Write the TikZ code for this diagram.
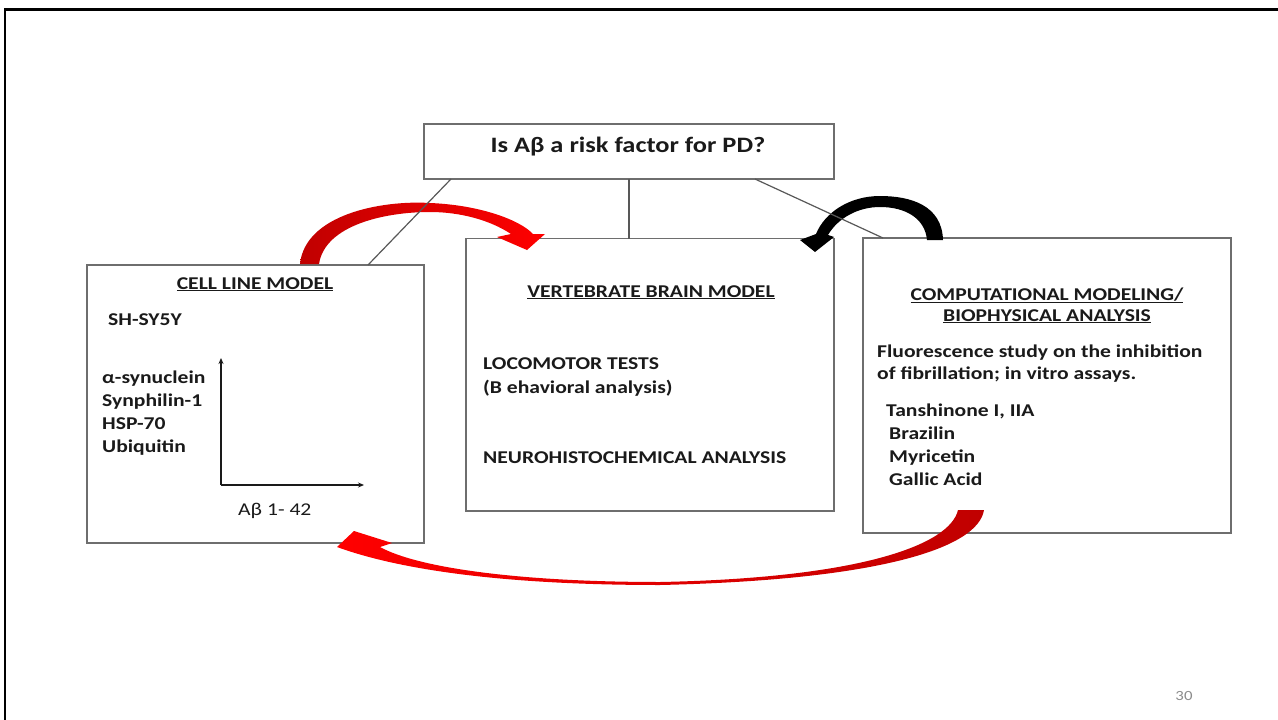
\documentclass[tikz,border=0pt]{standalone}
\usepackage{fontspec}
\setmainfont{Carlito}[FakeStretch=1.2]
\usetikzlibrary{arrows.meta,calc}
\definecolor{boxgray}{HTML}{6E6E6E}
\definecolor{numgray}{HTML}{8C8C8C}
\definecolor{darkred}{HTML}{C00000}
\definecolor{ink}{HTML}{1A1A1A}
\begin{document}
\begin{tikzpicture}[x=1pt,y=-1pt,
  box/.style={draw=boxgray,line width=1.5pt,fill=white,inner sep=0pt,outer sep=0pt,rectangle},
  link/.style={draw=boxgray!80!black,line width=1.2pt},
  txt/.style={font=\bfseries\fontsize{18}{22}\selectfont,anchor=base west,inner sep=0pt,text=ink},
  head/.style={txt,anchor=base},
  axis/.style={draw=ink,line width=1.2pt,-{Stealth[length=6pt,width=5pt]}},
]
\useasboundingbox (0,0) rectangle (1278,720);
\fill[white] (0,0) rectangle (1278,720);
\draw[line width=2.5pt] (5,720) -- (5,9.5) -- (1278,9.5);

% boxes
\node[box,minimum width=410pt,minimum height=55pt] (q) at (629,151.5) {};
\node[box,minimum width=337pt,minimum height=278pt] (cell) at (255.5,404) {};
\node[box,minimum width=368pt,minimum height=272.5pt] (brain) at (650,374.75) {};
\node[box,minimum width=368pt,minimum height=295pt] (comp) at (1047,385.5) {};

% curved arrows
\shade[left color=darkred, right color=red]
  (300,264) .. controls (305,215) and (380,200) .. (430,203)
  .. controls (480,205) and (520,220) .. (533,234)
  -- (545,234) -- (527,250) -- (497,237) -- (511,234)
  .. controls (490,220) and (460,212) .. (430,212)
  .. controls (385,212) and (325,225) .. (319,264) -- cycle;
\fill[black]
  (943,240) .. controls (942,205) and (910,196) .. (880,196)
  .. controls (850,196) and (825,212) .. (816,234)
  -- (800,240) -- (815,252) -- (834,237) -- (828,235)
  .. controls (838,218) and (858,207) .. (880,207)
  .. controls (905,207) and (925,218) .. (927,240) -- cycle;
\shade[left color=red, middle color=red!70!white, right color=darkred]
  (958,510) -- (984,510)
  .. controls (978,548) and (880,580) .. (660,585)
  .. controls (505,585) and (400,570) .. (337,547)
  -- (354,531) -- (392,543) -- (380,547)
  .. controls (418,568) and (520,582) .. (660,582)
  .. controls (860,578) and (950,545) .. (958,510) -- cycle;

% links from question box
\draw[link] ([xshift=27pt]q.south west) -- ([xshift=281pt]cell.north west);
\draw[link] (q.south) -- (q.south |- brain.north);
\draw[link] ([xshift=-79pt]q.south east) -- ([xshift=20pt]comp.north west);

% question
\node[head,font=\bfseries\fontsize{22}{26}\selectfont] (qt) at (628,152) {Is Aβ a risk factor for PD?};

% cell line model
\node[head] (cellh) at (255,289) {\underline{CELL LINE MODEL}};
\node[txt] (sh) at (108,325) {SH-SY5Y};
\node[txt] (m1) at (102,383) {α-synuclein};
\node[txt] (m2) at (102,406) {Synphilin-1};
\node[txt] (m3) at (102,429) {HSP-70};
\node[txt] (m4) at (102,452) {Ubiquitin};
\coordinate (o) at (221,485);
\coordinate (ytop) at (221,358);
\coordinate (xend) at (364,485);
\draw[axis] (o) -- (ytop);
\draw[axis] (o) -- (xend);
\node[txt,font=\fontsize{18}{22}\selectfont] (ab) at (238,515) {Aβ 1- 42};

% vertebrate brain model
\node[head] (brainh) at (651,297) {\underline{VERTEBRATE BRAIN MODEL}};
\node[txt] (b1) at (483,369) {LOCOMOTOR TESTS};
\node[txt] (b2) at (483,393) {(B ehavioral analysis)};
\node[txt] (b3) at (483,463) {NEUROHISTOCHEMICAL ANALYSIS};

% computational modeling
\node[head] (comph1) at (1047,300) {\underline{COMPUTATIONAL MODELING/}};
\node[head] (comph2) at (1047,321) {\underline{BIOPHYSICAL ANALYSIS}};
\node[txt] (c1) at (877,357) {Fluorescence study on the inhibition};
\node[txt] (c2) at (877,379) {of fibrillation; in vitro assays.};
\node[txt] (c3) at (886,416) {Tanshinone I, IIA};
\node[txt] (c4) at (889,439) {Brazilin};
\node[txt] (c5) at (889,462) {Myricetin};
\node[txt] (c6) at (889,485) {Gallic Acid};

% page number
\node[anchor=base,inner sep=0pt,text=numgray,font=\fontsize{14}{16}\selectfont] (pg) at (1184,700) {30};
\end{tikzpicture}
\end{document}
